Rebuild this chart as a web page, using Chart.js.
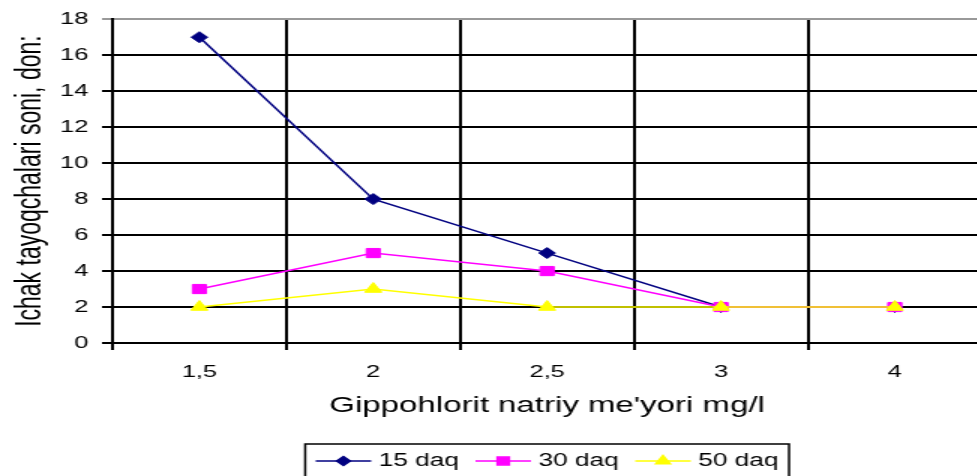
<!DOCTYPE html>
<html>
<head>
<meta charset="utf-8">
<script src="https://cdn.jsdelivr.net/npm/chart.js@4.4.1/dist/chart.umd.min.js"></script>
<style>
  html, body { margin: 0; padding: 0; background: #fff; overflow: hidden; }
  /* the original picture is stretched sideways, so the whole chart is too */
  #wrap { width: 662px; height: 480px; transform: scaleX(1.5); transform-origin: 0 0; }
</style>
</head>
<body>
<div id="wrap"><canvas id="chart" width="662" height="480"></canvas></div>
<script>
// categories on the x axis (mg/l)
const doses = ['1,5', '2', '2,5', '3', '4']

// counts for each exposure time
const min15 = [17, 8, 5, 2, 2]
const min30 = [3, 5, 4, 2, 2]
const min50 = [2, 3, 2, 2, 2]

const seriesNames = ['15 daq', '30 daq', '50 daq']

const yTitle = 'Ichak tayoqchalari soni, don:'
const xTitle = "Gippohlorit natriy me'yori mg/l"

const FONT = '"Liberation Sans", Arial, sans-serif'

/** legend with a frame round it, like the Excel one */
const framedLegend = {
  id: 'framedLegend',
  afterDraw(chart) {
    const ctx = chart.ctx
    const area = chart.chartArea
    const lineLen = 37, gapText = 5, gapItem = 11, pad = 7
    ctx.save()
    ctx.font = '17.5px ' + FONT
    let total = pad * 2
    chart.data.datasets.forEach((ds, i) => {
      total += lineLen + gapText + ctx.measureText(ds.label).width + (i ? gapItem : 0)
    })
    let x = (area.left + area.right) / 2 - total / 2
    const top = area.bottom + 101
    const midY = top + 17

    ctx.strokeStyle = '#000'
    ctx.lineWidth = 1.5
    ctx.strokeRect(x, top, total, 40)

    x += pad
    chart.data.datasets.forEach((ds, i) => {
      if (i) x += gapItem
      ctx.strokeStyle = ds.borderColor
      ctx.lineWidth = 1.5
      ctx.beginPath()
      ctx.moveTo(x, midY)
      ctx.lineTo(x + lineLen, midY)
      ctx.stroke()
      ctx.fillStyle = ds.pointBackgroundColor
      ctx.strokeStyle = ds.borderColor
      Chart.helpers.drawPoint(ctx, {
        pointStyle: ds.pointStyle, rotation: 0,
        radius: ds.pointRadius - 1, borderWidth: 1
      }, x + lineLen / 2, midY)
      x += lineLen + gapText
      ctx.fillStyle = '#000'
      ctx.textBaseline = 'middle'
      ctx.textAlign = 'left'
      ctx.fillText(ds.label, x, midY)
      x += ctx.measureText(ds.label).width
    })
    ctx.restore()
  }
}

const data = {
  labels: doses,
  datasets: [{
    label: seriesNames[0],
    data: min15,
    borderColor: '#000080',
    pointBackgroundColor: '#000080',
    pointStyle: 'rectRot',
    pointRadius: 5.5,
    order: 2
  }, {
    label: seriesNames[1],
    data: min30,
    borderColor: '#ff00ff',
    pointBackgroundColor: '#ff00ff',
    pointStyle: 'rect',
    pointRadius: 6.5,
    order: 1
  }, {
    label: seriesNames[2],
    data: min50,
    borderColor: '#ffff00',
    pointBackgroundColor: '#ffff00',
    pointStyle: 'triangle',
    pointRadius: 6.5,
    order: 0
  }]
}

const config = {
  type: 'line',
  data: data,
  options: {
    responsive: false,
    animation: false,
    datasets: { line: { borderWidth: 1.5, pointBorderWidth: 1, tension: 0 } },
    layout: { padding: { left: 0, top: 18, right: 4, bottom: 57 } },
    plugins: {
      legend: { display: false },
      tooltip: { enabled: false }
    },
    scales: {
      x: {
        offset: true,
        grid: { offset: true, color: '#000', lineWidth: 2, tickLength: 7 },
        border: { color: '#000', width: 2 },
        ticks: { color: '#000', padding: 12, font: { family: FONT, size: 17 } },
        title: {
          display: true, text: xTitle, color: '#000',
          font: { family: FONT, size: 22 }, padding: { top: 0, bottom: 4 }
        },
        afterFit(scale) { scale.height = 80 }
      },
      y: {
        min: 0,
        max: 18,
        ticks: { stepSize: 2, color: '#000', padding: 9, font: { family: FONT, size: 17 } },
        grid: {
          color: ctx => (ctx.tick && ctx.tick.value === 18 ? '#999' : '#000'),
          lineWidth: 2,
          tickLength: 7
        },
        border: { color: '#000', width: 2 },
        title: {
          display: true, text: yTitle, color: '#000',
          font: { family: FONT, size: 23 }, padding: { top: 7, bottom: 0 }
        },
        afterFit(scale) { scale.width = 75 }
      }
    }
  },
  plugins: [framedLegend]
}

const myChart = new Chart(document.getElementById('chart'), config)
</script>
</body>
</html>
